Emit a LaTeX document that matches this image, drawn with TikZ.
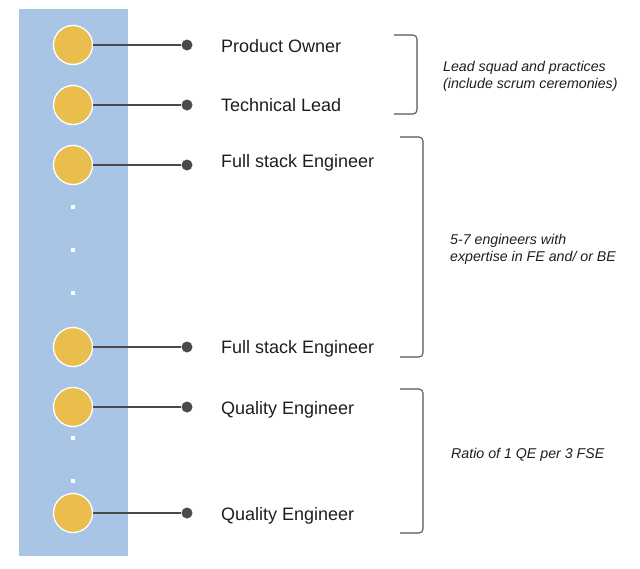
\documentclass[tikz,border=0pt]{standalone}
\usepackage{fontspec}
\setmainfont{Liberation Sans}
\definecolor{panel}{HTML}{A8C5E6}
\definecolor{person}{HTML}{E9BE4D}
\definecolor{wire}{HTML}{4A4A4A}
\definecolor{brk}{HTML}{555555}
\definecolor{txt}{HTML}{1E1E1E}
\begin{document}
\begin{tikzpicture}[x=1pt,y=-1pt,
  person/.style={circle,fill=person,draw=white,line width=1.3pt,minimum size=39pt,inner sep=0pt},
  endpt/.style={circle,fill=wire,minimum size=11pt,inner sep=0pt},
  wireline/.style={draw=wire,line width=2.2pt},
  role/.style={anchor=base west,text=txt,font=\fontsize{18}{21}\selectfont,inner sep=0pt},
  note/.style={anchor=west,text=txt,align=left,font=\fontsize{14.2}{17}\selectfont\itshape,inner sep=0pt},
  bracket/.style={draw=brk,line width=1.1pt,rounded corners=4pt},
  gap/.style={fill=white,minimum size=4pt,inner sep=0pt}]
\useasboundingbox (0,0) rectangle (640,568);
\fill[panel] (19,9) rectangle (128,556);
\foreach \n/\y in {1/45,2/105,3/165,4/347,5/407,6/513}{
  \node[person] (c\n) at (73,\y) {};
  \node[endpt] (d\n) at (187,\y) {};
  \draw[wireline] (c\n) -- (d\n);
}
\foreach \n/\y in {1/207,2/250,3/293,4/438,5/481}{
  \node[gap] (g\n) at (73,\y) {};
}
\node[role] (r1) at (221,52.5) {Product Owner};
\node[role] (r2) at (221,111.5) {Technical Lead};
\node[role] (r3) at (221,167.5) {Full stack Engineer};
\node[role] (r4) at (221,353) {Full stack Engineer};
\node[role] (r5) at (221,414) {Quality Engineer};
\node[role] (r6) at (221,520) {Quality Engineer};
\coordinate (b1a) at (394,35); \coordinate (b1b) at (417,35);
\coordinate (b1c) at (417,114); \coordinate (b1d) at (394,114);
\draw[bracket] (b1a) -- (b1b) -- (b1c) -- (b1d);
\coordinate (b2a) at (400,137); \coordinate (b2b) at (423,137);
\coordinate (b2c) at (423,357); \coordinate (b2d) at (400,357);
\draw[bracket] (b2a) -- (b2b) -- (b2c) -- (b2d);
\coordinate (b3a) at (400,389); \coordinate (b3b) at (423,389);
\coordinate (b3c) at (423,533); \coordinate (b3d) at (400,533);
\draw[bracket] (b3a) -- (b3b) -- (b3c) -- (b3d);
\node[note] (n1) at (443,76) {Lead squad and practices\\(include scrum ceremonies)};
\node[note] (n2) at (450,249) {5-7 engineers with\\expertise in FE and/ or BE};
\node[note] (n3) at (451,455) {Ratio of 1 QE per 3 FSE};
\end{tikzpicture}
\end{document}
